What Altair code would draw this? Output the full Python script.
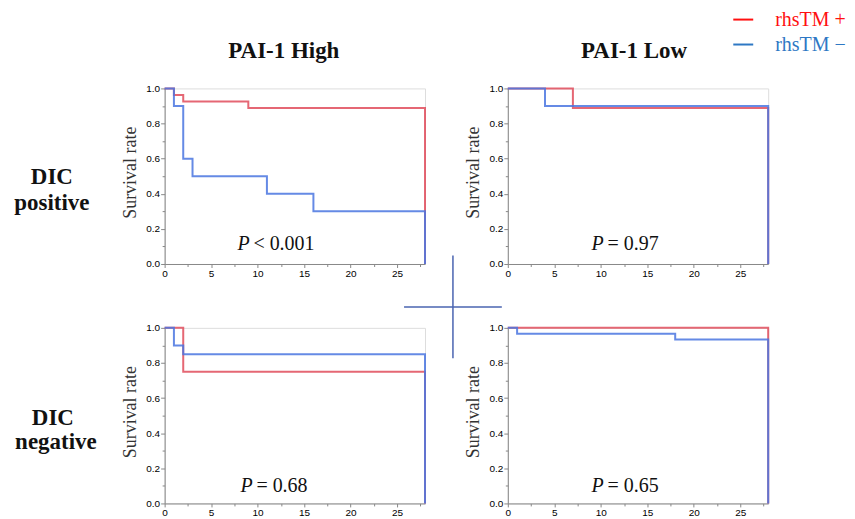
import altair as alt
import pandas as pd

RED_LAB = "rhsTM +"
BLUE_LAB = "rhsTM \u2212"

# Kaplan-Meier step data (time in days, survival rate)
tl_red_time = [0, 1, 2, 9, 28, 28]
tl_red_surv = [1.0, 0.963, 0.926, 0.889, 0.889, 0.0]
tl_blue_time = [0, 1, 2, 3, 11, 16, 28, 28]
tl_blue_surv = [1.0, 0.9, 0.6, 0.5, 0.4, 0.3, 0.3, 0.0]

tr_red_time = [0, 7, 28, 28]
tr_red_surv = [1.0, 0.889, 0.889, 0.0]
tr_blue_time = [0, 4, 28, 28]
tr_blue_surv = [1.0, 0.9, 0.9, 0.0]

bl_red_time = [0, 2, 28, 28]
bl_red_surv = [1.0, 0.75, 0.75, 0.0]
bl_blue_time = [0, 1, 2, 28, 28]
bl_blue_surv = [1.0, 0.9, 0.85, 0.85, 0.0]

br_red_time = [0, 28, 28]
br_red_surv = [1.0, 1.0, 0.0]
br_blue_time = [0, 1, 18, 28, 28]
br_blue_surv = [1.0, 0.967, 0.933, 0.933, 0.0]

col_titles = ["PAI-1 High", "PAI-1 Low"]
row_titles = [["DIC", "positive"], ["DIC", "negative"]]
p_sym = ["P", "P", "P", "P"]
p_rest = ["< 0.001", "= 0.97", "= 0.68", "= 0.65"]
legend_labels = [RED_LAB, BLUE_LAB]

x_ticks = [0, 2.5, 5, 7.5, 10, 12.5, 15, 17.5, 20, 22.5, 25, 27.5]
y_ticks = [0.0, 0.1, 0.2, 0.3, 0.4, 0.5, 0.6, 0.7, 0.8, 0.9, 1.0]

CURVE_RED = "#e04c5c"
CURVE_BLUE = "#4a76e0"
LEG_RED = "#ff1010"
LEG_BLUE = "#2e78c4"
CROSS = "#4a64b0"
SERIF = "Liberation Serif"

W, H = 261, 176
one = pd.DataFrame({"k": [0]})


def xaxis():
    return alt.Axis(
        values=x_ticks,
        labelExpr="datum.value % 5 == 0 ? datum.value : ''",
        tickSize={"condition": {"test": "datum.value % 5 != 0", "value": 2.5}, "value": 3.5},
        labelPadding=1, labelFlush=False, labelOverlap=False,
        title=None, grid=False,
    )


def yaxis():
    return alt.Axis(
        values=y_ticks,
        labelExpr="round(datum.value*10) % 2 == 0 ? format(datum.value, '.1f') : ''",
        tickSize={"condition": {"test": "round(datum.value*10) % 2 == 1", "value": 2.5}, "value": 4},
        labelPadding=1, labelFlush=False, labelOverlap=False, grid=False,
        title="Survival  rate", titleX=-34, titleY=84, titleAngle=270,
        titleAlign="center", titleBaseline="middle",
        titleFont=SERIF, titleFontSize=18, titleFontWeight="normal", titleColor="#333333",
    )


def text_layer(txt, x, y, size, color="#111111", weight="normal", style="normal", align="left",
               baseline="alphabetic"):
    return alt.Chart(pd.DataFrame({"t": [txt]})).mark_text(
        font=SERIF, fontSize=size, fontWeight=weight, fontStyle=style, align=align,
        baseline=baseline, color=color,
    ).encode(x=alt.value(x), y=alt.value(y), text="t:N")


def panel(red_t, red_s, blue_t, blue_s, idx, p_x, p_y, extras):
    rows = []
    for i, (t, s) in enumerate(zip(red_t, red_s)):
        rows.append({"time": t, "surv": s, "group": RED_LAB, "ord": i})
    for i, (t, s) in enumerate(zip(blue_t, blue_s)):
        rows.append({"time": t, "surv": s, "group": BLUE_LAB, "ord": i})
    df = pd.DataFrame(rows)
    lines = alt.Chart(df).mark_line(interpolate="step-after", strokeWidth=2, opacity=0.85).encode(
        x=alt.X("time:Q", scale=alt.Scale(domain=[0, 28], nice=False, zero=False), axis=xaxis()),
        y=alt.Y("surv:Q", scale=alt.Scale(domain=[0, 1], nice=False), axis=yaxis()),
        color=alt.Color("group:N", scale=alt.Scale(domain=[RED_LAB, BLUE_LAB],
                                                   range=[CURVE_RED, CURVE_BLUE]), legend=None),
        order="ord:Q",
    )
    layers = [lines,
              text_layer(p_sym[idx], p_x, p_y, 20, style="italic"),
              text_layer(p_rest[idx], p_x + 16, p_y, 20)]
    layers += extras
    return alt.layer(*layers).properties(width=W, height=H)


# top-left extras: column title, row title, centre cross
tl_extras = [
    text_layer(col_titles[0], 119.5, -30, 23, weight="bold", align="center"),
    text_layer(row_titles[0][0], -113, 95.5, 23, weight="bold", align="center"),
    text_layer(row_titles[0][1], -113, 121.5, 23, weight="bold", align="center"),
    alt.Chart(one).mark_rule(color=CROSS, strokeWidth=1.5).encode(
        x=alt.value(289), y=alt.value(167.5), y2=alt.value(270.5)),
    alt.Chart(one).mark_rule(color=CROSS, strokeWidth=1.5).encode(
        x=alt.value(240), x2=alt.value(338), y=alt.value(219.2)),
]
tr_extras = [
    text_layer(col_titles[1], 126.5, -30, 23, weight="bold", align="center"),
    alt.Chart(one).mark_rule(color=LEG_RED, strokeWidth=2).encode(
        x=alt.value(226), x2=alt.value(246), y=alt.value(-69)),
    alt.Chart(one).mark_rule(color=LEG_BLUE, strokeWidth=2).encode(
        x=alt.value(226), x2=alt.value(246), y=alt.value(-44)),
    text_layer(legend_labels[0], 268, -69, 20, color=LEG_RED, baseline="middle"),
    text_layer(legend_labels[1], 268, -44, 20, color=LEG_BLUE, baseline="middle"),
]
bl_extras = [
    text_layer(row_titles[1][0], -112, 97, 23, weight="bold", align="center"),
    text_layer(row_titles[1][1], -109, 121.5, 23, weight="bold", align="center"),
]

tl = panel(tl_red_time, tl_red_surv, tl_blue_time, tl_blue_surv, 0, 73, 161.5, tl_extras)
tr = panel(tr_red_time, tr_red_surv, tr_blue_time, tr_blue_surv, 1, 84, 161.5, tr_extras)
bl = panel(bl_red_time, bl_red_surv, bl_blue_time, bl_blue_surv, 2, 76, 165, bl_extras)
br = panel(br_red_time, br_red_surv, br_blue_time, br_blue_surv, 3, 84, 165, [])

chart = alt.concat(
    tl, tr, bl, br, columns=2, spacing={"row": 64, "column": 83}, bounds="flush"
).properties(
    padding={"left": 5, "top": 0, "right": 0, "bottom": 0}
).configure_view(stroke="#cccccc", strokeWidth=1).configure_axis(
    domainColor="#aaaaaa", domainWidth=1.2, tickColor="#999999",
    labelColor="#4a5570", labelFont="Liberation Sans", labelFontSize=10,
).configure(background="white")

chart.save("out.html", embed_options={"renderer": "svg", "actions": False})
